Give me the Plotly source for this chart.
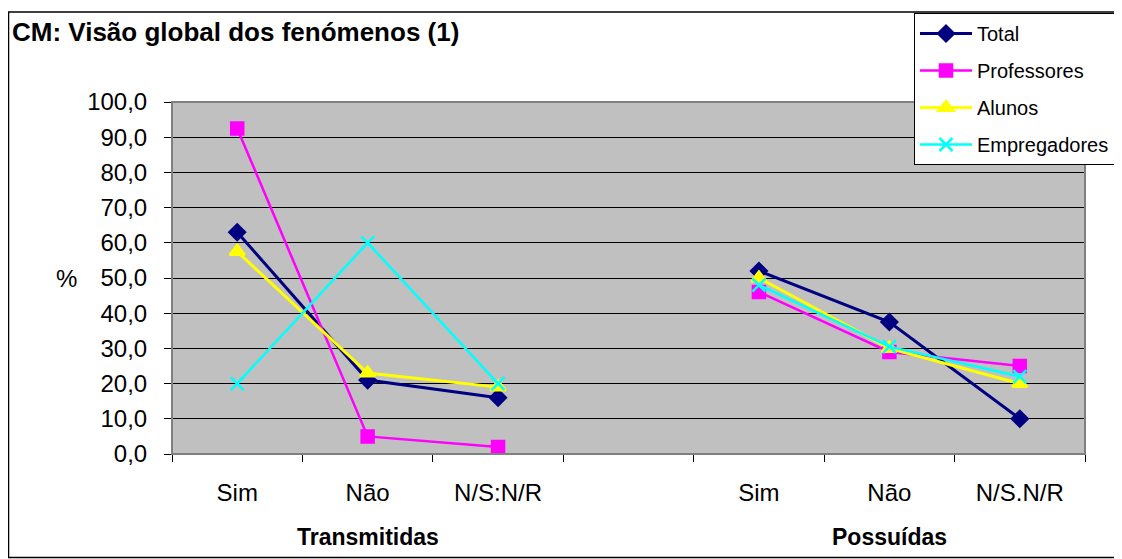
import plotly.graph_objects as go

categories = ["Sim", "Não", "N/S:N/R", "", "Sim", "Não", "N/S.N/R"]
groups = ["Transmitidas", "Possuídas"]
total = [63.0, 21.0, 16.0, None, 52.0, 37.5, 10.0]
professores = [92.5, 5.0, 2.0, None, 46.0, 29.0, 25.0]
alunos = [57.5, 23.0, 19.0, None, 50.0, 30.0, 20.0]
empregadores = [20.0, 60.0, 20.0, None, 48.0, 30.5, 22.0]
y_ticks = [0, 10, 20, 30, 40, 50, 60, 70, 80, 90, 100]

OFF = 8  # page body margin
W, H = 1122 - OFF, 559 - OFF
L, R, T, B = 172 - OFF, 1085 - OFF, 102 - OFF, 454 - OFF
pw, ph = R - L, B - T

def px(x):  # x in screenshot pixels -> paper
    return (x - OFF - L) / pw

def py(y):
    return (B - (y - OFF)) / ph

xs = list(range(len(categories)))
fig = go.Figure()
series = [
    ("Total", total, "#000080", "diamond", 12, 3),
    ("Professores", professores, "#FF00FF", "square", 12, 2.5),
    ("Alunos", alunos, "#FFFF00", "triangle-up", 13, 3),
    ("Empregadores", empregadores, "#00FFFF", "x-thin", 13, 2.5),
]
for name, vals, col, sym, size, lw in series:
    fig.add_trace(go.Scatter(
        x=xs, y=vals, name=name, mode="lines+markers",
        line=dict(color=col, width=lw),
        marker=dict(symbol=sym, size=size, color=col, line=dict(color=col, width=2.5)),
        connectgaps=False, legendgroup=name,
    ))

FAM = "Arial, Liberation Sans, sans-serif"
font = dict(family=FAM, size=24, color="black")

fig.update_layout(
    width=W, height=H,
    margin=dict(l=L, r=W - R, t=T, b=H - B, autoexpand=False),
    paper_bgcolor="white", plot_bgcolor="#C0C0C0",
    font=font,
    showlegend=True,
    legend=dict(
        x=px(914), y=py(13), xanchor="left", yanchor="top",
        bgcolor="white", bordercolor="black", borderwidth=1,
        font=dict(family=FAM, size=20, color="black"),
        tracegroupgap=8, itemwidth=52,
    ),
    xaxis=dict(
        range=[-0.5, len(categories) - 0.5],
        tickvals=xs, ticktext=categories, ticks="", ticklabelstandoff=17,
        tickfont=font,
        showgrid=False, zeroline=False, showline=True, linecolor="black", linewidth=1,
        minor=dict(tickmode="linear", tick0=-0.5, dtick=1, ticks="outside",
                   ticklen=7, tickcolor="black", showgrid=False),
    ),
    yaxis=dict(
        range=[0, 100], tickvals=y_ticks,
        ticktext=[f"{v:.1f}".replace(".", ",") for v in y_ticks],
        ticks="outside", ticklen=7, tickcolor="black", ticklabelstandoff=12,
        tickfont=font,
        showgrid=True, gridcolor="black", gridwidth=1,
        zeroline=False, showline=True, linecolor="black", linewidth=1,
    ),
)

# outer chart border
fig.add_shape(type="rect", xref="paper", yref="paper",
              x0=px(8.5), x1=px(1125), y0=py(557.5), y1=py(12),
              line=dict(color="black", width=1.5), fillcolor="rgba(0,0,0,0)", layer="below")
# plot area border (top/right gray)
fig.add_shape(type="rect", xref="paper", yref="paper", x0=0, x1=1, y0=0, y1=1,
              line=dict(color="#808080", width=2), fillcolor="rgba(0,0,0,0)")

fig.add_annotation(text="<b>CM: Visão global dos fenómenos (1)</b>", xref="paper", yref="paper",
                   x=px(10), y=py(32), xanchor="left", yanchor="middle", showarrow=False,
                   font=dict(family=FAM, size=26, color="black"))
fig.add_annotation(text="%", xref="paper", yref="paper", x=px(66), y=py(278),
                   xanchor="center", yanchor="middle", showarrow=False, font=font)
for gx, g in zip([1, 5], groups):
    fig.add_annotation(text=f"<b>{g}</b>", xref="x", yref="paper", x=gx, y=py(537),
                       xanchor="center", yanchor="middle", showarrow=False,
                       font=dict(family=FAM, size=23, color="black"))

fig.write_html("out.html")
